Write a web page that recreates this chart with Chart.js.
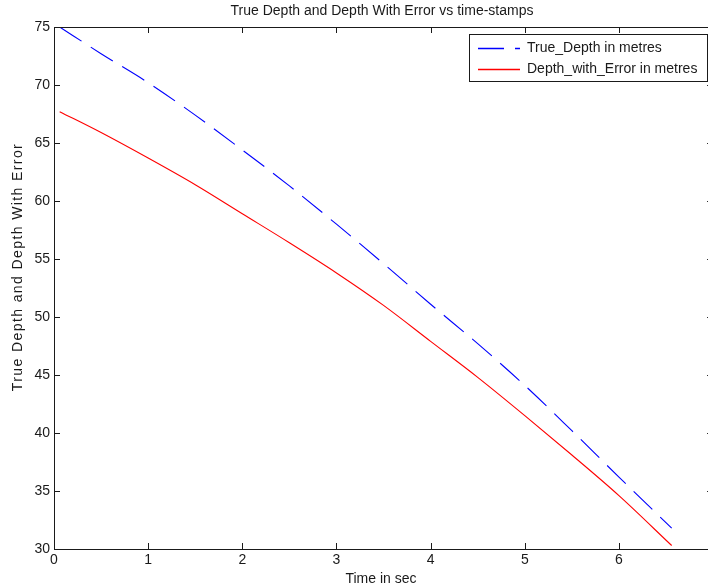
<!DOCTYPE html>
<html lang="en">
<head>
<meta charset="utf-8" />
<title>True Depth and Depth With Error vs time-stamps</title>
<script src="https://cdn.jsdelivr.net/npm/chart.js@4.4.1/dist/chart.umd.min.js"></script>
<style>
  html, body { margin: 0; padding: 0; background: #fff; overflow: hidden; }
  #wrap { position: relative; width: 720px; height: 588px; }
</style>
</head>
<body>
<div id="wrap"><canvas id="depth" width="720" height="588"></canvas></div>
<script>
// values
const timeStamps = [0.06, 0.5, 1, 1.5, 2, 2.5, 3, 3.5, 4, 4.5, 5, 5.5, 6, 6.56]
const trueDepth = [75.0, 72.7, 70.2, 67.4, 64.4, 61.3, 58.0, 54.6, 51.1, 47.7, 44.1, 40.2, 36.2, 31.8]
const depthWithError = [67.7, 65.9, 63.7, 61.4, 58.9, 56.4, 53.8, 51.0, 47.9, 44.8, 41.5, 38.1, 34.6, 30.3]
const xTicks = [0, 1, 2, 3, 4, 5, 6, 7]
const yTicks = [30, 35, 40, 45, 50, 55, 60, 65, 70, 75]
const seriesNames = ['True_Depth in metres', 'Depth_with_Error in metres']

const FONT = '"Liberation Sans", Arial, sans-serif'
const INK = '#1a1a1a'

const pts = (ys) => timeStamps.map((t, i) => ({ x: t, y: ys[i] }))

// MATLAB-ish box, inward ticks, titles and legend
const matlabAxes = {
  id: 'matlabAxes',
  afterDraw(chart) {
    const { ctx, chartArea: a, scales: { x, y } } = chart
    const tk = 6
    ctx.save()
    ctx.strokeStyle = INK
    ctx.lineWidth = 1
    ctx.strokeRect(a.left + 0.5, a.top + 0.5, a.right - a.left, a.bottom - a.top)
    ctx.beginPath()
    xTicks.forEach((v) => {
      const px = Math.round(x.getPixelForValue(v)) + 0.5
      ctx.moveTo(px, a.bottom); ctx.lineTo(px, a.bottom - tk)
      ctx.moveTo(px, a.top); ctx.lineTo(px, a.top + tk)
    })
    yTicks.forEach((v) => {
      const py = Math.round(y.getPixelForValue(v)) + 0.5
      ctx.moveTo(a.left, py); ctx.lineTo(a.left + tk, py)
      ctx.moveTo(a.right, py); ctx.lineTo(a.right - tk, py)
    })
    ctx.stroke()

    ctx.fillStyle = INK
    ctx.font = '14px ' + FONT
    ctx.textAlign = 'center'
    ctx.textBaseline = 'middle'
    ctx.fillText('True Depth and Depth With Error vs time-stamps', 382, 11)
    ctx.fillText('Time in sec', 381, 579)
    ctx.save()
    ctx.translate(18, 267)
    ctx.rotate(-Math.PI / 2)
    ctx.letterSpacing = '1.4px'
    ctx.fillText('True Depth and Depth With Error', 0, 0)
    ctx.restore()

    // legend
    const lx = 469, ly = 34, lw = 238, lh = 47
    ctx.fillStyle = '#fff'
    ctx.fillRect(lx, ly, lw, lh)
    ctx.strokeStyle = INK
    ctx.strokeRect(lx + 0.5, ly + 0.5, lw, lh)
    chart.data.datasets.forEach((ds, i) => {
      const ry = 48 + i * 21
      ctx.beginPath()
      ctx.strokeStyle = ds.borderColor
      ctx.lineWidth = 1.3
      ctx.setLineDash(ds.borderDash || [])
      ctx.moveTo(478, ry + 0.5); ctx.lineTo(520, ry + 0.5)
      ctx.stroke()
      ctx.setLineDash([])
      ctx.fillStyle = INK
      ctx.textAlign = 'left'
      ctx.fillText(ds.label, 527, ry)
    })
    ctx.restore()
  }
}

new Chart(document.getElementById('depth'), {
  type: 'scatter',
  data: {
    datasets: [
      {
        label: seriesNames[0],
        data: pts(trueDepth),
        showLine: true,
        borderColor: '#0000ff',
        borderWidth: 1.1,
        borderDash: [26, 11],
        pointRadius: 0,
        cubicInterpolationMode: 'monotone',
      },
      {
        label: seriesNames[1],
        data: pts(depthWithError),
        showLine: true,
        borderColor: '#ff0000',
        borderWidth: 1.1,
        pointRadius: 0,
        cubicInterpolationMode: 'monotone',
      },
    ],
  },
  options: {
    responsive: false,
    animation: false,
    layout: { padding: { left: 0, top: 27, right: 4, bottom: 0 } },
    plugins: { legend: { display: false }, title: { display: false }, tooltip: { enabled: false } },
    scales: {
      x: {
        type: 'linear',
        min: 0,
        max: 7,
        afterBuildTicks: (s) => { s.ticks = xTicks.map((v) => ({ value: v })) },
        afterFit: (s) => { s.height = 39 },
        grid: { display: false, drawTicks: false },
        border: { display: false },
        ticks: { color: INK, font: { family: FONT, size: 14 }, padding: 3, maxRotation: 0 },
      },
      y: {
        min: 30,
        max: 75,
        afterBuildTicks: (s) => { s.ticks = yTicks.map((v) => ({ value: v })) },
        afterFit: (s) => { s.width = 54 },
        grid: { display: false, drawTicks: false },
        border: { display: false },
        ticks: { color: INK, font: { family: FONT, size: 14 }, padding: 4 },
      },
    },
  },
  plugins: [matlabAxes],
})
</script>
</body>
</html>
